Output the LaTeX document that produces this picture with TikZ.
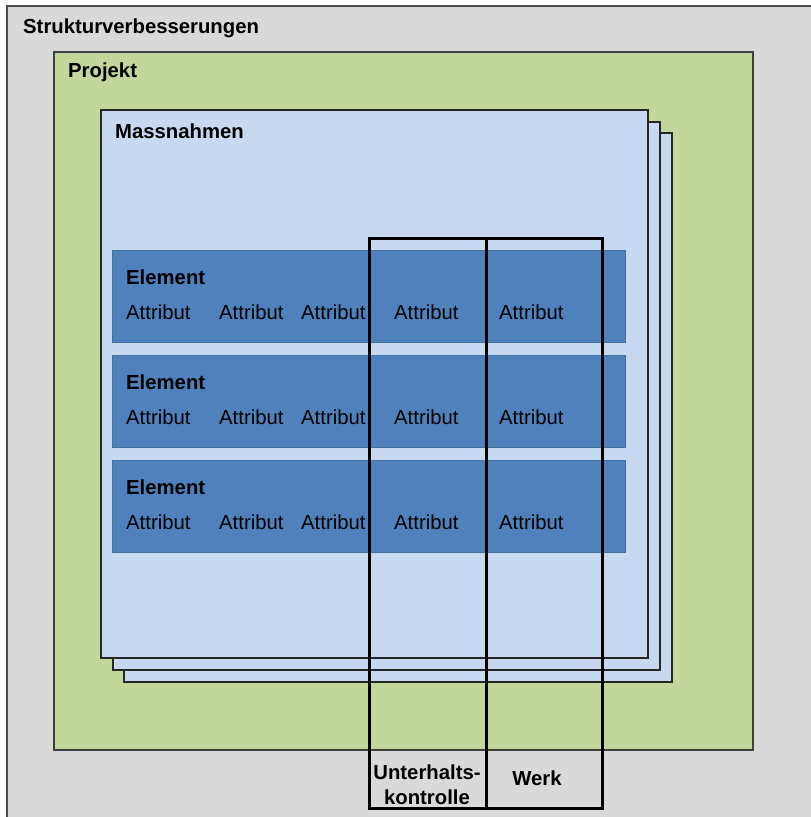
\documentclass[tikz,border=0pt]{standalone}
\usepackage{fontspec}
\setmainfont{Liberation Sans}
\definecolor{bggrey}{HTML}{D9D9D9}
\definecolor{projgreen}{HTML}{C4D79B}
\definecolor{pageblue}{HTML}{C6D9F1}
\definecolor{elemblue}{HTML}{4F81BD}
\definecolor{elemedge}{HTML}{41719C}
\begin{document}
\begin{tikzpicture}[x=1pt,y=-1pt,
  lbl/.style={inner sep=0pt, anchor=base west, font=\fontsize{20.3}{25}\selectfont},
  title/.style={lbl, font=\fontsize{20.3}{25}\selectfont\bfseries},
  page/.style={fill=pageblue, draw=black!85, line width=1.4pt},
  elembox/.style={fill=elemblue, draw=elemedge, line width=1pt},
  column/.style={draw=black, line width=3pt},
  collabel/.style={inner sep=0pt, align=center, font=\fontsize{20.3}{25}\selectfont\bfseries}]
  \useasboundingbox (0,0) rectangle (811,817);
  \clip (0,0) rectangle (811,817);
  \fill[white] (0,0) rectangle (811,817);
  % outer area
  \draw[fill=bggrey, draw=black!70, line width=1.5pt] (7,6) rectangle (830,840);
  % project area
  \draw[fill=projgreen, draw=black!75, line width=1.5pt] (54,52) rectangle (753,750);
  % stacked measure pages
  \draw[page] (124,133) rectangle (672,682);
  \draw[page] (113,122) rectangle (660,670);
  \draw[page] (101,110) rectangle (648,658);
  % element rows
  \foreach \y in {250,355,460}
    \draw[elembox] (112,\y) rectangle (625,\y+92);
  % headings
  \node[title] (struktur) at (23,33) {Strukturverbesserungen};
  \node[title] (projekt) at (68,77) {Projekt};
  \node[title] (massnahmen) at (115,138) {Massnahmen};
  % element contents
  \foreach \i/\y in {1/250,2/355,3/460} {
    \node[title] (el\i) at (126,\y+34) {Element};
    \foreach \j/\x in {1/126,2/219,3/301,4/394,5/499}
      \node[lbl] (at\i\j) at (\x,\y+69) {Attribut};
  }
  % highlighted columns
  \draw[column] (369,238) rectangle (486,808);
  \draw[column] (486,238) rectangle (602,808);
  \node[collabel] (unterhalt) at (427,785) {Unterhalts-\\kontrolle};
  \node[collabel, anchor=base] (werk) at (537,785) {Werk};
\end{tikzpicture}
\end{document}
